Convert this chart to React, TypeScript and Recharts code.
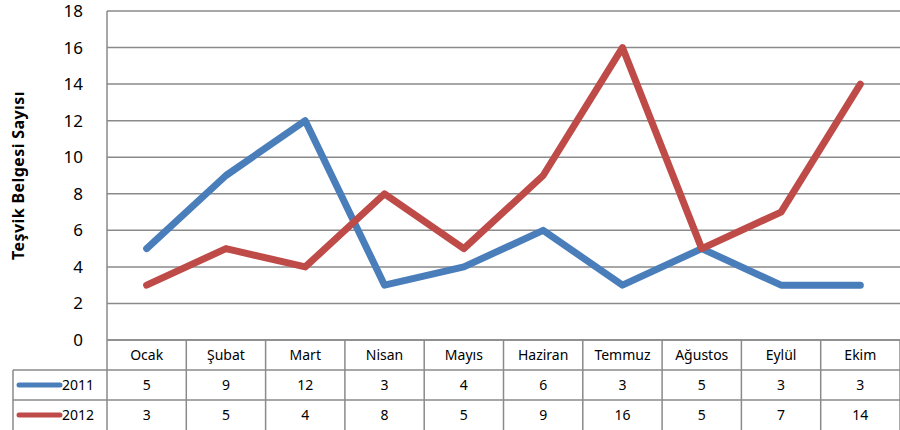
import React from "react";
import { LineChart, Line, XAxis, YAxis, CartesianGrid, Label } from "recharts";

const months = ["Ocak", "Şubat", "Mart", "Nisan", "Mayıs", "Haziran", "Temmuz", "Ağustos", "Eylül", "Ekim"];
const values2011 = [5, 9, 12, 3, 4, 6, 3, 5, 3, 3];
const values2012 = [3, 5, 4, 8, 5, 9, 16, 5, 7, 14];
const yTicks = [0, 2, 4, 6, 8, 10, 12, 14, 16, 18];

const BLUE = "#4A7EBB";
const RED = "#BE4B48";
const GRID = "#8a8a8a";
const FONT = "'Noto Sans', sans-serif";

const data = months.map((m, i) => ({ month: m, y2011: values2011[i], y2012: values2012[i] }));

const BAND = 79.3;
const ROW = 30;

const TableTick = (props: any) => {
  const { x, y, payload, index } = props;
  const i = typeof index === "number" ? index : months.indexOf(payload.value);
  const left = x - BAND / 2;
  const right = x + BAND / 2;
  const top = y;
  return (
    <g>
      <line x1={right} y1={top} x2={right} y2={top + 3 * ROW} stroke={GRID} strokeWidth={1.5} />
      {i === 0 && (
        <g>
          <line x1={left} y1={top} x2={left} y2={top + 3 * ROW} stroke={GRID} strokeWidth={1.5} />
          <line x1={13} y1={top + ROW} x2={left} y2={top + ROW} stroke={GRID} strokeWidth={1.5} />
          <line x1={13} y1={top + 2 * ROW} x2={left} y2={top + 2 * ROW} stroke={GRID} strokeWidth={1.5} />
          <line x1={13} y1={top + ROW} x2={13} y2={top + 3 * ROW} stroke={GRID} strokeWidth={1.5} />
          <line x1={19} y1={top + ROW * 1.5} x2={60} y2={top + ROW * 1.5} stroke={BLUE} strokeWidth={5} strokeLinecap="round" />
          <line x1={19} y1={top + ROW * 2.5} x2={60} y2={top + ROW * 2.5} stroke={RED} strokeWidth={5} strokeLinecap="round" />
          <text x={62} y={top + ROW * 1.5} dy="0.35em" fontSize={14} fontFamily={FONT} fill="#000">2011</text>
          <text x={62} y={top + ROW * 2.5} dy="0.35em" fontSize={14} fontFamily={FONT} fill="#000">2012</text>
        </g>
      )}
      <line x1={left} y1={top + ROW} x2={right} y2={top + ROW} stroke={GRID} strokeWidth={1.5} />
      <line x1={left} y1={top + 2 * ROW} x2={right} y2={top + 2 * ROW} stroke={GRID} strokeWidth={1.5} />
      <text x={x} y={top + ROW * 0.5} dy="0.35em" textAnchor="middle" fontSize={14} fontFamily={FONT} fill="#000">
        {payload.value}
      </text>
      <text x={x} y={top + ROW * 1.5} dy="0.35em" textAnchor="middle" fontSize={14} fontFamily={FONT} fill="#000">
        {values2011[i]}
      </text>
      <text x={x} y={top + ROW * 2.5} dy="0.35em" textAnchor="middle" fontSize={14} fontFamily={FONT} fill="#000">
        {values2012[i]}
      </text>
    </g>
  );
};

export default function App() {
  return (
    <div style={{ position: "absolute", left: 0, top: 0, width: 900, height: 430, background: "#fff" }}>
      <LineChart
        width={900}
        height={430}
        data={data}
        margin={{ top: 11, right: 0, bottom: 0, left: 0 }}
        style={{ overflow: "visible" }}
      >
        <CartesianGrid vertical={false} stroke={GRID} strokeWidth={1.5} />
        <XAxis
          dataKey="month"
          type="category"
          height={90}
          padding={{ left: BAND / 2, right: BAND / 2 }}
          tickLine={false}
          tickSize={0}
          tickMargin={0}
          axisLine={{ stroke: GRID, strokeWidth: 1.5 }}
          interval={0}
          tick={<TableTick />}
        />
        <YAxis
          width={107}
          domain={[0, 18]}
          ticks={yTicks}
          interval={0}
          tickLine={false}
          tickMargin={18}
          axisLine={{ stroke: GRID, strokeWidth: 1.5 }}
          tick={{ fontSize: 17, fontFamily: FONT, fill: "#000" }}
        >
          <Label
            value="Teşvik Belgesi Sayısı"
            angle={-90}
            position="insideLeft"
            offset={18}
            style={{ fontSize: 16, fontWeight: "bold", fontFamily: FONT, fill: "#000", textAnchor: "middle", letterSpacing: 0.4 }}
          />
        </YAxis>
        <Line dataKey="y2011" stroke={BLUE} strokeWidth={7} dot={false} activeDot={false} isAnimationActive={false} strokeLinejoin="round" strokeLinecap="round" />
        <Line dataKey="y2012" stroke={RED} strokeWidth={7} dot={false} activeDot={false} isAnimationActive={false} strokeLinejoin="round" strokeLinecap="round" />
      </LineChart>
    </div>
  );
}
